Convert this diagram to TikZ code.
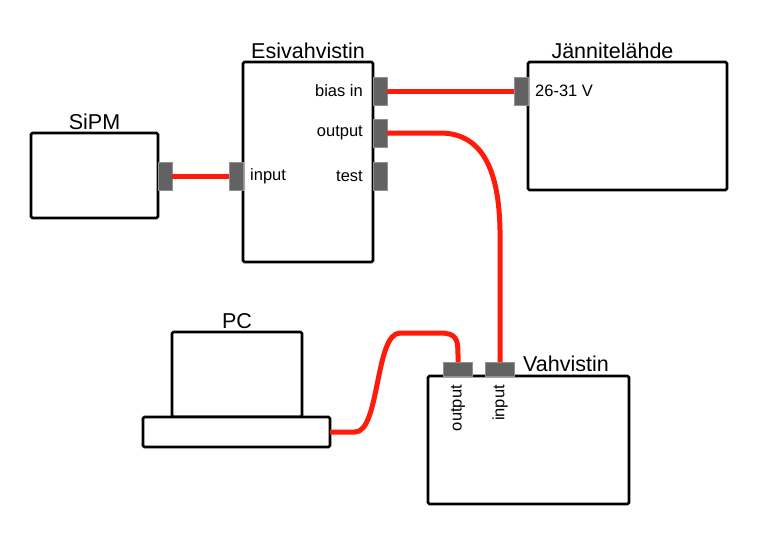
\documentclass[tikz,border=0pt]{standalone}
\usepackage{fontspec}
\setmainfont{Liberation Sans}
\usetikzlibrary{positioning}
\definecolor{cab}{HTML}{FF1A0A}
\definecolor{prt}{HTML}{626262}
\tikzset{
  box/.style={draw=black, line width=2.6pt, rounded corners=1.5pt, fill=white,
              inner sep=0pt, outer sep=0pt},
  port/.style={draw=prt!70!white, line width=0.6pt, fill=prt, inner sep=0pt, outer sep=0pt},
  vport/.style={port, minimum width=14pt, minimum height=28pt},
  hport/.style={port, minimum width=29pt, minimum height=14pt},
  ttl/.style={font=\fontsize{21.5}{24}\selectfont, inner sep=0pt},
  lbl/.style={font=\fontsize{16.5}{19}\selectfont, inner sep=0pt},
  cable/.style={draw=cab, line width=5pt},
}

\begin{document}
\begin{tikzpicture}[x=1pt,y=-1pt]
  \useasboundingbox (0,0) rectangle (761,536);
  % laitteet
  \node[box, minimum width=127pt, minimum height=85pt] (sipm) at (94.5,175.5) {};
  \node[box, minimum width=130pt, minimum height=200pt] (esi) at (308,162) {};
  \node[box, minimum width=199pt, minimum height=128pt] (src) at (627.5,126) {};
  \node[box, minimum width=201pt, minimum height=128pt] (amp) at (528.5,440) {};
  \node[box, minimum width=130pt, minimum height=85pt] (pcmon) at (237,374.5) {};
  \node[box, minimum width=187pt, minimum height=30pt] (pcbase) at (236.5,432) {};
  % otsikot
  \node[ttl, above=3pt of sipm] {SiPM};
  \node[ttl, above=3pt of esi] {Esivahvistin};
  \node[ttl, above=3pt of src, xshift=-15pt] {Jännitelähde};
  \node[ttl, above=3pt of pcmon] {PC};
  \node[ttl, anchor=south west] at ([xshift=95pt,yshift=4pt]amp.north west) {Vahvistin};
  % liittimet
  \node[vport, anchor=west] (sipmout) at (sipm.east |- 0,176) {};
  \node[vport, anchor=east] (esiin) at (esi.west |- 0,176) {};
  \node[vport, anchor=west] (bias) at (esi.east |- 0,91) {};
  \node[vport, anchor=west] (esiout) at (esi.east |- 0,133) {};
  \node[vport, anchor=west] (test) at (esi.east |- 0,176) {};
  \node[vport, anchor=east] (vsrc) at (src.west |- 0,91) {};
  \node[hport, anchor=south] (vout) at (458,0 |- amp.north) {};
  \node[hport, anchor=south] (vin) at (500,0 |- amp.north) {};
  % tekstit
  \node[lbl, right=7pt of esiin] {input};
  \node[lbl, left=10pt of bias] {bias in};
  \node[lbl, left=10pt of esiout] {output};
  \node[lbl, left=10pt of test] {test};
  \node[lbl, right=7pt of vsrc] {26-31 V};
  \node[lbl, rotate=90, anchor=east] at ([yshift=-9pt]vout.south) {output};
  \node[lbl, rotate=90, anchor=east] at ([yshift=-9pt]vin.south) {input};
  % kaapelit
  \draw[cable] (sipmout) -- (esiin);
  \draw[cable] (bias) -- (vsrc);
  \draw[cable] (esiout.east) -- (440,133) .. controls (485,133) and (499,175) .. (500,230) -- (vin.north);
  \draw[cable] (pcbase.east) -- (355,432) .. controls (380,432) and (375,333) .. (400,333)
    -- (440,333) .. controls (457,333) and (458,340) .. (458,355) -- (vout.north);
\end{tikzpicture}
\end{document}
